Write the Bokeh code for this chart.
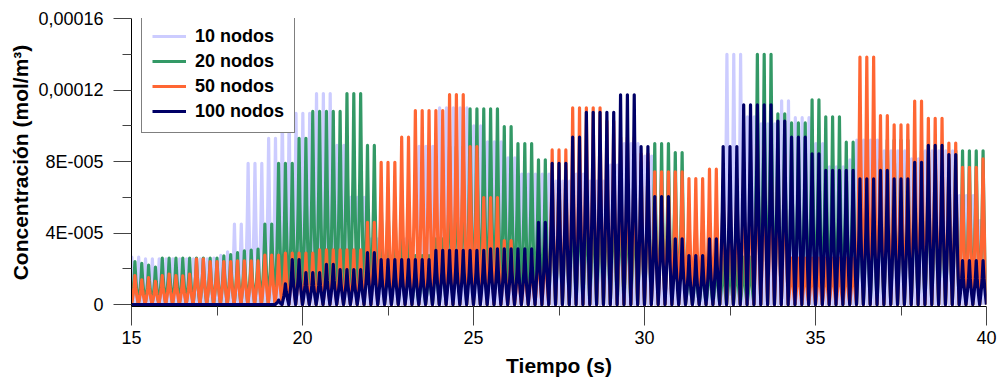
import numpy as np
from bokeh.plotting import figure
from bokeh.models import Range1d, FixedTicker, CustomJSTickFormatter
from bokeh.embed import file_html
from bokeh.resources import INLINE

# ---------------- data ----------------
SERIES_NAMES = ["10 nodos", "20 nodos", "50 nodos", "100 nodos"]
SERIES_COLORS = ["#ccccff", "#339966", "#ff6633", "#000066"]

PERIOD = 0.2                      # s, one pulse per cycle
FIRST_PEAK = [15.01, 15.1, 15.1, 15.1]   # time of first pulse peak (s)

# peak concentration of each pulse (x 1E-5 mol/m3), held for N consecutive cycles
N10_COUNTS = [2, 10, 1, 1, 1, 2, 3, 2, 5, 3, 2, 3, 2, 3, 2, 3, 5, 2, 3, 2, 5, 3, 2, 3, 2, 3,
              2, 10, 3, 2, 3, 2, 3, 2, 3, 1, 4, 4, 2, 5, 3, 1]
N10_LEVELS = [2.65, 2.55, 2.6, 2.75, 2.95, 4.5, 7.9, 9.3, 10.7, 11.8, 8.9, 6.0, 3.67, 2.74, 3.67,
              8.85, 11.0, 10.0, 9.1, 8.2, 7.3, 6.9, 7.3, 6.9, 7.8, 9.0, 8.3, 2.6, 14.0, 10.5, 10.1,
              11.4, 10.45, 9.0, 7.7, 8.1, 9.2, 8.6, 8.15, 8.6, 6.1, 4.7]

N20_COUNTS = [1, 1, 1, 1, 9, 1, 1, 1, 1, 1, 1, 2, 3, 2, 5, 3, 2, 3, 2, 3, 2, 3, 5, 2, 3, 2, 5,
              3, 2, 3, 2, 3, 2, 10, 3, 2, 3, 2, 3, 2, 3, 1, 4, 4, 2, 5]
N20_LEVELS = [2.4, 2.3, 2.2, 2.1, 2.6, 2.72, 2.8, 2.9, 3.0, 3.05, 3.1, 4.5, 7.9, 9.3, 10.8, 11.8,
              8.9, 6.0, 3.67, 2.74, 3.67, 8.84, 10.95, 9.96, 9.0, 8.1, 7.5, 7.03, 7.5, 7.03, 7.96,
              9.0, 8.5, 2.65, 14.0, 10.67, 10.16, 11.45, 10.5, 9.08, 7.68, 8.15, 9.2, 8.6, 8.15, 8.6]

N50_COUNTS = [1, 1, 1, 1, 1, 1, 1, 1, 1, 2, 4, 4, 3, 5, 7, 2, 3, 2, 5, 3, 2, 3, 2, 3, 2, 3, 5,
              2, 3, 2, 5, 3, 2, 3, 2, 3, 2, 10, 3, 2, 3, 2, 3, 2, 3, 1]
N50_LEVELS = [1.62, 1.38, 1.5, 1.3, 1.62, 1.7, 1.62, 1.6, 1.7, 2.55, 2.4, 2.45, 2.77, 2.88, 3.06,
              4.6, 7.96, 9.36, 10.85, 11.75, 8.84, 5.98, 3.58, 2.74, 3.67, 8.65, 11.0, 10.26, 9.36,
              8.43, 7.42, 7.05, 7.57, 7.03, 7.96, 8.9, 8.39, 2.6, 13.84, 10.57, 10.05, 11.38,
              10.42, 9.03, 7.68, 8.15]

N100_COUNTS = [21, 1, 1, 2, 3, 2, 4, 2, 8, 8, 7, 2, 3, 2, 5, 3, 2, 3, 2, 3, 2, 3, 5, 2, 3, 2,
               5, 3, 2, 3, 2, 3, 2, 4]
N100_LEVELS = [0.0, 0.25, 1.16, 2.52, 1.78, 2.25, 1.95, 2.9, 2.52, 3.03, 3.12, 4.6, 7.9, 9.36,
               10.75, 11.73, 8.84, 6.04, 3.67, 2.74, 3.67, 8.84, 11.17, 10.26, 9.36, 8.43, 7.5,
               7.03, 7.5, 7.03, 7.96, 8.9, 8.39, 2.46]

# shape of one pulse: offset from the peak (fraction of a period) and fraction of the peak
PULSE_PHASE = [-0.5, -0.34, -0.22, -0.13, -0.06, 0.0, 0.06, 0.13, 0.22, 0.34]
PULSE_LEVEL = [0.0, 0.22, 0.42, 0.6, 0.8, 1.0, 0.8, 0.6, 0.42, 0.22]

X_TICKS = [15, 20, 25, 30, 35, 40]
X_MINOR_TICKS = [17.5, 22.5, 27.5, 32.5, 37.5]
Y_TICKS = [0, 4e-5, 8e-5, 1.2e-4, 1.6e-4]
Y_TICK_LABELS = ["0", "4E-005", "8E-005", "0,00012", "0,00016"]
Y_MINOR_TICKS = [2e-5, 6e-5, 1e-4, 1.4e-4]

X_LABEL = "Tiempo (s)"
Y_LABEL = "Concentración (mol/m³)"


def pulse_train(first_peak, counts, levels):
    peaks = np.repeat(np.array(levels, dtype=float), counts) * 1e-5
    t, c = [], []
    for i, pk in enumerate(peaks):
        t0 = first_peak + i * PERIOD
        for ph, lv in zip(PULSE_PHASE, PULSE_LEVEL):
            t.append(t0 + ph * PERIOD)
            c.append(pk * lv)
    t.append(first_peak + (len(peaks) - 0.5) * PERIOD)
    c.append(0.0)
    return t, c


ALL_COUNTS = [N10_COUNTS, N20_COUNTS, N50_COUNTS, N100_COUNTS]
ALL_LEVELS = [N10_LEVELS, N20_LEVELS, N50_LEVELS, N100_LEVELS]

FONT = "Liberation Sans"

# a tiny margin below zero so the flat line at 0 is not cut in half by the frame
p = figure(width=1000, height=381, x_range=Range1d(15, 40), y_range=Range1d(-1.1e-6, 1.6e-4),
           output_backend="svg", toolbar_location=None,
           min_border_left=131, min_border_right=14, min_border_top=18, min_border_bottom=75)
p.outline_line_color = None
p.grid.visible = False
p.background_fill_color = "white"
p.border_fill_color = "white"

for name, color, t0, counts, levels in zip(SERIES_NAMES, SERIES_COLORS, FIRST_PEAK,
                                           ALL_COUNTS, ALL_LEVELS):
    t, c = pulse_train(t0, counts, levels)
    p.line(t, c, line_color=color, line_width=3.2, line_join="round", legend_label=name)

# y axis
yax = p.yaxis[0]
yax.ticker = FixedTicker(ticks=Y_TICKS, minor_ticks=Y_MINOR_TICKS)
yax.formatter = CustomJSTickFormatter(
    args=dict(vals=Y_TICKS, labels=Y_TICK_LABELS),
    code="""
    let best = 0;
    for (let i = 0; i < vals.length; i++) {
        if (Math.abs(vals[i] - tick) < Math.abs(vals[best] - tick)) best = i;
    }
    return labels[best];
    """)
yax.axis_label = Y_LABEL
yax.major_tick_in = 0
yax.major_tick_out = 18
yax.minor_tick_in = 0
yax.minor_tick_out = 9
yax.major_label_standoff = 10
yax.axis_label_standoff = 3

# x axis
xax = p.xaxis[0]
xax.ticker = FixedTicker(ticks=X_TICKS, minor_ticks=X_MINOR_TICKS)
xax.axis_label = X_LABEL
xax.major_tick_in = 0
xax.major_tick_out = 19
xax.minor_tick_in = 0
xax.minor_tick_out = 9
xax.major_label_standoff = 5
xax.axis_label_standoff = 7

for ax in (xax, yax):
    ax.axis_line_color = "black"
    ax.axis_line_width = 1
    ax.major_tick_line_color = "#444444"
    ax.minor_tick_line_color = "#444444"
    ax.major_label_text_font = FONT
    ax.major_label_text_font_size = "18px"
    ax.major_label_text_color = "black"
    ax.axis_label_text_font = FONT
    ax.axis_label_text_font_size = "21px"
    ax.axis_label_text_font_style = "bold"
    ax.axis_label_text_color = "black"

lg = p.legend[0]
lg.location = (10, 173)
lg.label_text_font = FONT
lg.label_text_font_size = "18px"
lg.label_text_font_style = "bold"
lg.label_text_color = "black"
lg.glyph_width = 34
lg.glyph_height = 22
lg.label_height = 22
lg.label_standoff = 9
lg.spacing = 3
lg.padding = 10
lg.margin = 0
lg.border_line_color = "black"
lg.border_line_width = 1
lg.background_fill_color = "white"
lg.background_fill_alpha = 1.0

open("out.html", "w").write(file_html(p, INLINE))
